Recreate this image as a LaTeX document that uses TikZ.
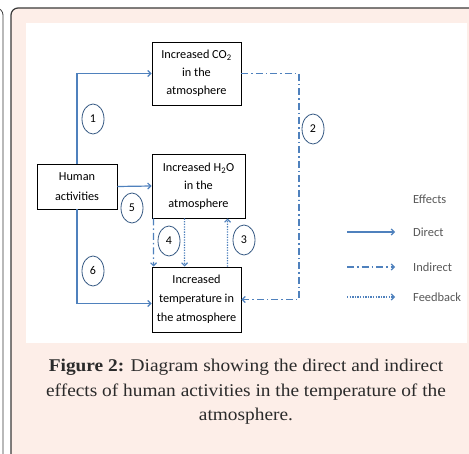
\documentclass[tikz,border=0pt]{standalone}
\usepackage{fontspec}
\setmainfont{Liberation Serif}[FakeStretch=1.08]
\newfontfamily\calibri{Carlito}
\usetikzlibrary{arrows.meta,shapes.geometric,positioning}
\definecolor{panelpink}{HTML}{FDEEE8}
\definecolor{arrowblue}{HTML}{4F81BD}
\definecolor{framegray}{HTML}{3A3A3A}
\definecolor{legendgray}{HTML}{595959}
\definecolor{captiontext}{HTML}{2B2B2B}
\begin{document}
\begin{tikzpicture}[x=1bp, y=-1bp,
  box/.style = {draw=black, line width=0.9bp, align=center, inner sep=0pt},
  num/.style = {draw=arrowblue!70!black, line width=0.8bp, ellipse, minimum width=22bp, minimum height=30bp, inner sep=0pt, font=\calibri\fontsize{12}{14}\selectfont},
  direct/.style = {draw=arrowblue, line width=1.2bp, -{Straight Barb[length=3bp,width=6bp]}},
  indirect/.style = {direct, dash pattern=on 7bp off 3bp on 1.5bp off 3bp},
  feedback/.style = {direct, dash pattern=on 1.3bp off 1.3bp},
  legtext/.style = {anchor=west, text=legendgray, inner sep=0pt, font=\calibri\fontsize{12.5}{14}\selectfont}]
  \useasboundingbox (0,0) rectangle (469,454);
  % frame and panel
  \draw[framegray, line width=0.8bp, rounded corners=7bp] (-20,8) -- (3,8) -- (3,470);
  \draw[framegray, fill=panelpink, line width=1.2bp, rounded corners=7bp] (11,8) rectangle (480,470);
  \fill[white] (26,23) rectangle (467,343);
  % boxes
  \node[box, minimum width=89bp, minimum height=63bp, font=\calibri\fontsize{12.3}{18}\selectfont] (co2) at (196.5,73.5) {Increased CO\textsubscript{2}\\in the\\atmosphere};
  \node[box, minimum width=80bp, minimum height=45bp, font=\calibri\fontsize{12.3}{20}\selectfont] (human) at (77,186.5) {Human\\activities};
  \node[box, minimum width=93bp, minimum height=64bp, font=\calibri\fontsize{12.3}{18}\selectfont] (h2o) at (198.5,186) {Increased H\textsubscript{2}O\\in the\\atmosphere};
  \node[box, minimum width=89bp, minimum height=65bp, font=\calibri\fontsize{12.3}{19}\selectfont] (temp) at (196.5,299.5) {Increased\\temperature in\\the atmosphere};
  % numbers
  \node[num] (n1) at (93,119) {1};
  \node[num] (n2) at (313,129) {2};
  \node[num] (n3) at (244,240) {3};
  \node[num] (n4) at (169,241) {4};
  \node[num] (n5) at (132,208) {5};
  \node[num] (n6) at (93,271) {6};
  % effects
  \coordinate (turn) at (299,200);
  \draw[direct] (human.north) |- (co2.west);
  \draw[direct] (human.east) -- (h2o.west);
  \draw[direct] (human.south) |- ([yshift=-4bp]temp.west);
  \draw[indirect] (co2.east) -| (turn) |- (temp.east);
  \draw[indirect] ([xshift=2bp]h2o.south west) -- ([xshift=2bp]temp.north west);
  \draw[feedback] ([xshift=33bp]h2o.south west) -- ([xshift=33bp]temp.north west);
  \draw[feedback] ([xshift=76bp]temp.north west) -- ([xshift=76bp]h2o.south west);
  % legend
  \coordinate (dirA) at (347,232);
  \coordinate (dirB) at (395,232);
  \coordinate (indA) at (347,267);
  \coordinate (indB) at (395,267);
  \coordinate (feedA) at (347,297);
  \coordinate (feedB) at (395,297);
  \draw[direct] (dirA) -- (dirB);
  \draw[indirect] (indA) -- (indB);
  \draw[feedback] (feedA) -- (feedB);
  \node[legtext] (effects) at (413,199) {Effects};
  \node[legtext] (ldirect) at (413,232) {Direct};
  \node[legtext] (lindirect) at (413,267) {Indirect};
  \node[legtext] (lfeedback) at (413,297) {Feedback};
  % caption
  \node[align=center, text=captiontext, font=\fontsize{18}{24.5}\selectfont] (caption) at (246,392) {\textbf{Figure 2:} Diagram showing the direct and indirect\\effects of human activities in the temperature of the\\atmosphere.};
\end{tikzpicture}
\end{document}
